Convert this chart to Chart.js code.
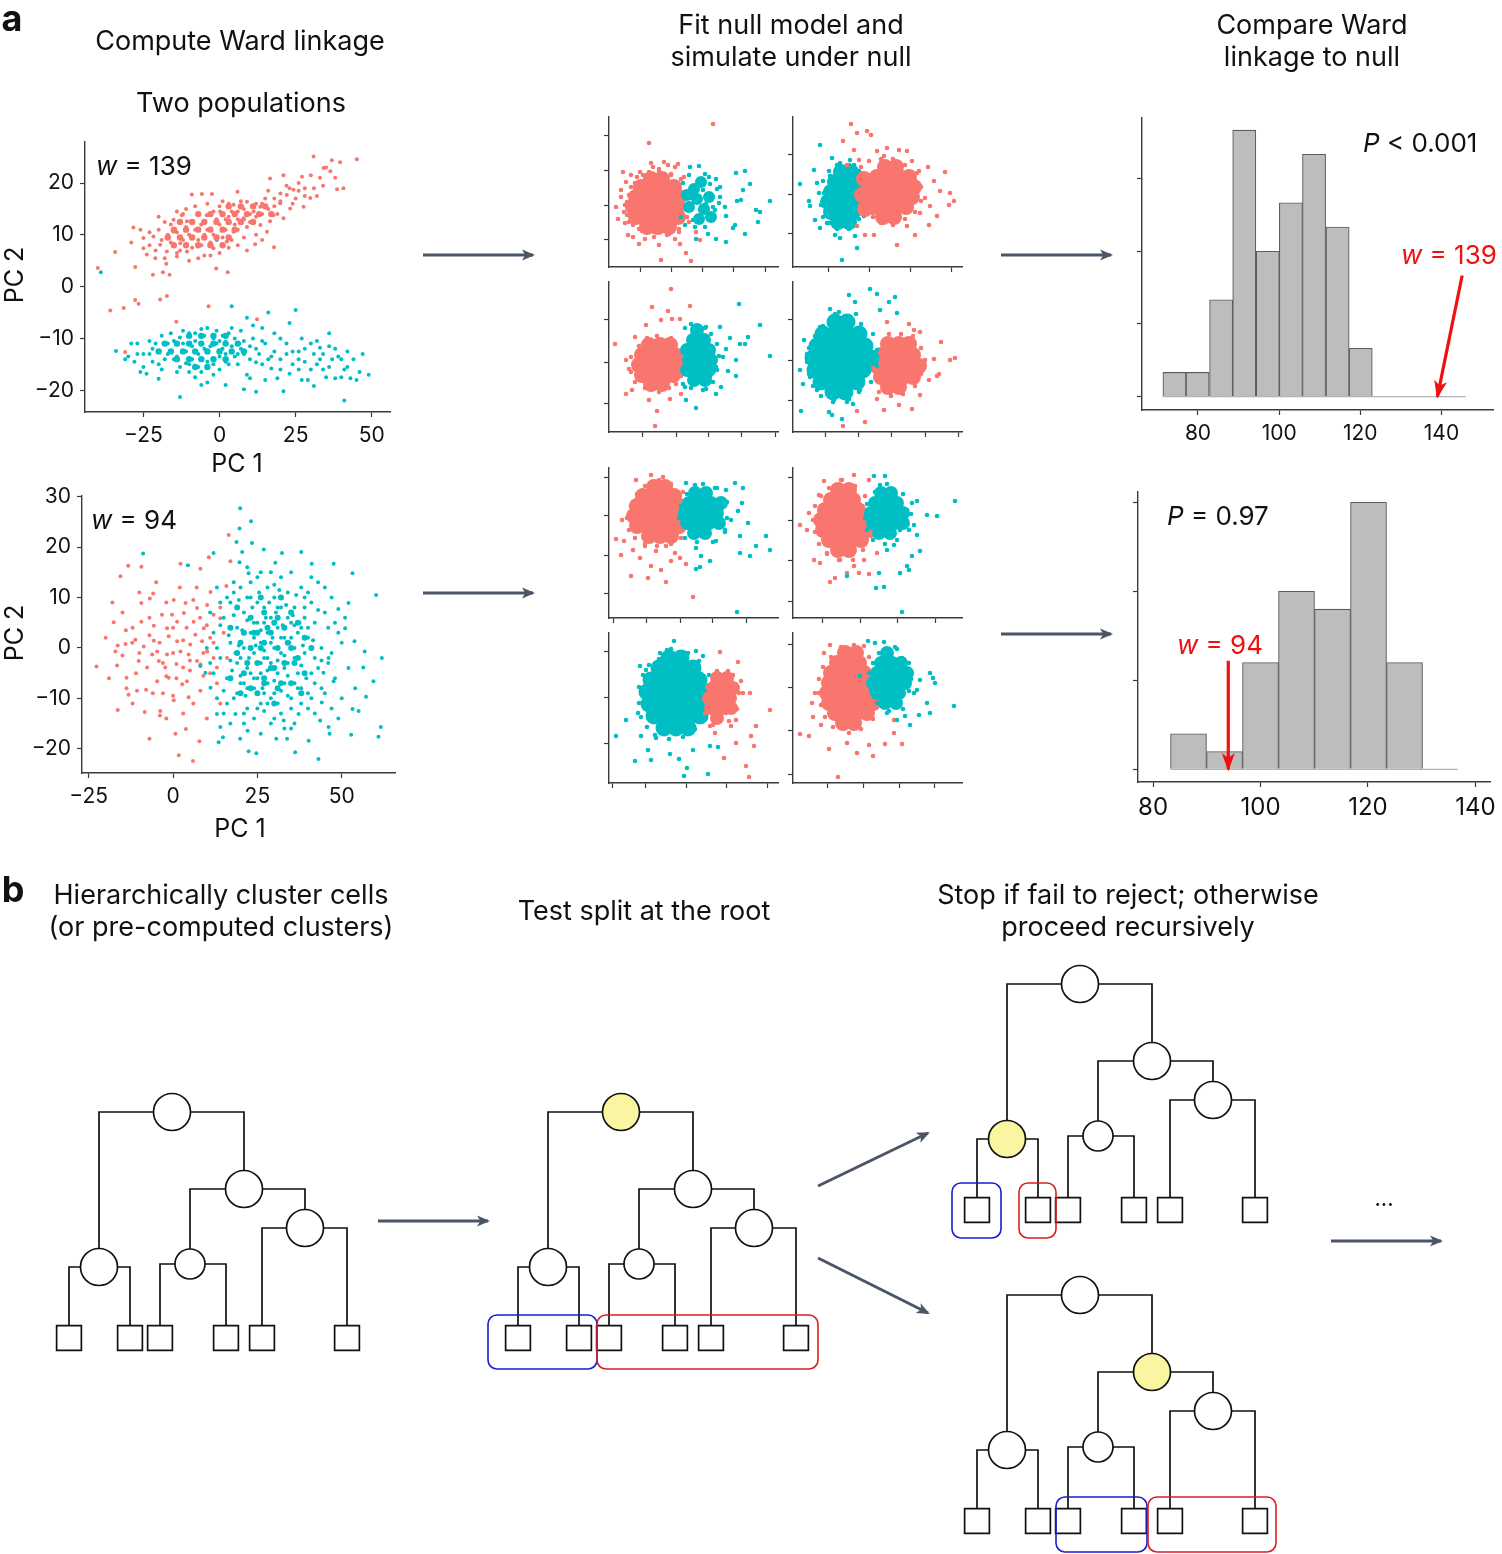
<!DOCTYPE html>
<html><head><meta charset="utf-8">
<script src="https://cdn.jsdelivr.net/npm/chart.js@4.4.1/dist/chart.umd.min.js"></script>
<style>
body{margin:0;background:#fff;}
#page{position:relative;width:1502px;height:1554px;overflow:hidden;font-family:Inter,'Noto Sans',sans-serif;color:#111;}
.t{position:absolute;white-space:nowrap;transform:translate(-50%,-50%);line-height:1;}
.l{position:absolute;white-space:nowrap;transform:translate(0,-50%);line-height:1;}
.box{position:absolute;}
</style></head><body><div id="page"></div>
<script>
// ---- main scatter panels (PC1, PC2 pairs) ----
const mainA_red = [30.9,25.1, 45.1,24.6, 36.9,24.4, 34.2,22.9, 36.4,22.3, 39.6,24, 27.1,21.2, 21,21.5, 16.6,20.9, 38.6,18.8, 40.7,19, 29.8,17.1, 27.6,15.4, 24.3,18.7, 22.1,17.7, -9.1,17.8, -5.8,17.9, -2.5,17.9, 5.9,18.3, -28.3,11.4, -34.3,6.7, -25,9.4, -40,3.6, -27.7,3.8, -21.9,2.3, -18.6,2.8, -16.4,2.3, -17.5,4.4, -23.9,6.2, -21.1,5.5, -14,5.8, -10.7,6.8, -1.1,3.5, 2.7,2.8, 11.7,8.2, 17.9,7.6, 15.6,10.6, 13.4,11.9, 17.7,13.8, 11.2,14.5, 7.9,13.2, 4.6,10.6, 2.4,8.7, -2,7.4, -7.4,8.1, -12.9,8.4, -15.1,10.6, -10.7,12.6, -4.2,13.8, 0.2,14.5, 4.6,15.8, 9,16.4, 13.4,15.4, 19.9,16.1, 23.2,15.1, 21,13.2, 16.6,12.6, -21.7,9.7, -19.5,8.1, -17.3,6.8, -15.1,12.9, -12.4,13.8, -25,7.4, -35.9,-4.6, -31.5,-4.1, -27.7,-2.6, -26.6,-3.3, -19.5,-2.5, -17.3,-1.8, -3.6,-3.8, -14.2,-6.8, -31,-12.6, 12.3,-6.3,
  -10,10, -8,11, -6,12, -4,11, -2,10, 0,12, 2,11, -7,9, -3,8.5, 1,9.5, -12,9, -9,12.5, -5,10, -1,13, 3,13.5, 5,12, -11,11.5, -14,10.5, -6,8, 6,14.5, 8,13, 10,14, 12,16, 14,14, 15,17, 18,15.5, 20,18, 23,19, 25,17, -16,8.5, -13,7, -9,7.5, -17,10, -2,14.5, 3,16, -7,14,
  -20,11, -23,8, -18,12.5, -8,15.5, 1,16.5, 6,11, 9,11.5, 11,12.5, 7,16.5, 16,18.5, 19,14, 26,20, 31,19, 33,21, 28,17.5, -11,15, -14,14.5, -4,16, 4,9, -5,6, -10,5, 8,9.5,
  0,15.5, 2,13, 4,14.5, 6,13, 8,15, 10,12.5, 12,13.5, 14,16, 16,15, 18,17, 20,16.5, 22,19.5, 24,16, 26,18.5, 28,19, 30,21.5, 32,17.5, 34,19.5, 35,23, 38,21, -19,9, -21,7, -23,10.5, -18,5.5, -16,12, -14,6.5, -12,14, -20,13.5, -26,11, -29,8.5, -3,6, -7,5.5, 0,6.5, 3,7.5, 6,8, 9,7, 12,10, 14,9];
const mainA_redCore = [-15,8, -11,8, -7,8, -3,8, 1,8, -17,9.5, -13,9.5, -9,9.5, -5,9.5, -1,9.5, 3,9.5, -15,11, -11,11, -7,11, -3,11, 1,11, 5,11, -13,12.5, -9,12.5, -5,12.5, -1,12.5, 3,12.5, 7,12.5, 11,12.5, -7,14, -3,14, 1,14, 5,14, 9,14, 13,14, 17,14, 3,15.5, 7,15.5, 11,15.5, 15,15.5];
const mainA_teal = [-39,2.8, -0.9,9, -34,-12.4, -30,-13.5, -28,-14.5, -24,-16.8, -20,-17.8, -13,-21.3, -22,-12, -19,-9.5, -17,-11, -25,-13, -27,-13, -20,-15, -15,-14, -10,-16.5, -8,-17.5, -4,-18.5, 0,-16, 3,-15, 5,-13.5, 7,-8.5, 4,-3.8, 9,-6, 11,-7.5, 14,-8, 16,-5, 15,-11, 18,-12.5, 20,-14, 22,-13, 24,-15, 25,-4.5, 23,-7, 26,-16, 28,-14.5, 29,-18, 30,-11, 31,-13, 32,-15, 34,-16, 36,-9, 36,-11.5, 37,-14, 38,-17.7, 40,-17.5, 41,-16, 42,-12.5, 43,-17.7, 49,-17, 41,-22, 36,-15.5, 33,-11.8, 12,-14.6, 10,-17.7, 8,-19.8, 12,-20.3, 9,-17, 19,-17.7, 21,-20.2, 17,-15.8, 2,-19, -6,-19, 6,-11, 10,-11.5, 13,-13, -2,-10, -5,-12, -8,-10.5, -11,-12.5, -13,-9.8, -9,-14, -4,-14.5, 1,-12, 3,-9, -1,-8.5, -6,-8.2, -16,-12.5, -18,-14, -12,-11, -7,-13, -3,-11.5, 0,-13.5, 2,-10.7, 5,-10, 8,-13, 6,-15, -10,-9, -14,-13.5, -22,-14.5, -26,-16.5, -31,-14, 15,-18, 27,-18, 31,-19.2, 45,-18, 39,-13.5,
  -15,-10.5, -13,-15.5, -11,-14.8, -7,-15.5, -2,-15, 1,-9.5, 4,-11.5, 7,-12, -9,-11.5, -5,-9.5, -1,-11, 2,-13, 11,-10, 14,-15, 17,-13.5, 20,-10, 26,-12.5, 27,-10, 33,-14, 23,-16.8, -23,-10.5, -29,-11,
  -27,-11, -25,-15.5, -23,-13, -21,-11, -19,-16, -17,-13, -16,-9, -14,-16.5, -12,-8.5, -10,-15, -8,-9, -6,-16.5, -4,-8, -2,-17, 0,-10.5, 2,-14.5, 4,-8, 6,-13, 8,-10.5, 10,-14, 12,-12, 14,-10.5, 16,-14, 18,-9, 20,-16, 22,-11, 24,-12.5, 26,-14, 28,-12, 30,-16, 32,-10.5, 34,-13, 35,-17.5, 38,-12, 40,-14, 42,-15.5, 44,-14, 46,-16.5, 47,-13];
const mainA_tealCore = [-10,-9.5, -6,-9.5, -2,-9.5, 2,-9.5, -18,-11, -14,-11, -10,-11, -6,-11, -2,-11, 2,-11, 6,-11, -20,-12.5, -16,-12.5, -12,-12.5, -8,-12.5, -4,-12.5, 0,-12.5, 4,-12.5, 8,-12.5, -14,-14, -10,-14, -6,-14, -2,-14, 2,-14, -8,-15.5, -4,-15.5];

const mainB_red = [-22.7,-3.7, -17.6,5.1, -16.4,0.5, -17.1,-0.7, -16.6,-3.5, -16.4,-12.3, -15.6,14.2, -13.3,16.3, -14.1,0.8, -13.8,-5.9, -13.8,-8, -13.2,-9.3, -12.1,1, -11.2,1.6, -10.7,-8.5, -9.4,5.2, -9.4,16.1, -9.4,8.9, -8.7,0.3, -8.4,-12.7, -8,-8.3, -6.9,9.8, -5.9,10.8, -5.7,4.4, -5.7,1.4, -6.2,-1.3, -4.7,-0.7, -4.2,-2.6, -3.9,-13.4, -3.8,-12.5, -1.8,3.9, -1.3,2.3, -2.3,-3.9, -2,-5.6, -1.3,-5.9, 0,-9.5, 0.2,-10.4, 0.7,-17, 0.2,9.5, 1.2,5.2, 2.2,16.7, 3.7,8.9, 3.2,6.9, 3,-3.9, 4.6,-1.3, 4.1,-6.6, 4.6,-9.8, 3.8,-16.1, 5.9,-22.4, 1.7,-21.3, 8.1,15.7, 7.8,-18.5, 10.6,18, 11.1,11.1, 8.6,1.3, 7.1,-2.6, 9.1,3.9, 10.1,-0.7, 12,6.6, 14,5.9, 16.5,22.4, 17,17.2, 15.8,12.3, 13,-3.9, 6.1,5.2, 6.6,2.6, 5.1,0.7, 2.2,-0.7, 1.2,1.3, -1.8,-1.3, -3.3,6.6, -0.3,6.6, 7.1,7.9, 10.1,8.5, 8.1,-3.3, 2.7,-7.2, -4.7,-6.6, -7.7,-3.9, -10.2,-2.6, 8.1,-8.5,
  -7,2.5, -3,-9, 5,-4.5, 9,-5.5, 11,2, 12,-2, 6,9.5, -11,-5, -14,3.5, 1,-3.2,
  -20,2, -19,-6, -18,9, -15,-1.5, -15,7, -12,4, -12,-11, -10,-1, -10,11, -7,6, -6,-9, -5,13, -4,1, -3,-3, -2,9, 0,-1, 0,4, 1,-6, 2,12, 3,1.5, 4,4, 5,-2.5, 6,-11, 7,12, 8,6, 9,-1, 10,4.5, 11,-5, 12,1, 13,-7, 14,8, 15,3, 16,-2, 3,-13, -2,-14, -7,-18, 10,-14, 14,-11];
const mainB_teal = [-8.9,18.7, 4.4,16.4, 12,18.8, 19.9,27.7, 19.7,23.7, 23.1,25.1, 18.8,21, 20.5,19, 23.4,20.8, 26.9,19.5, 32.3,18.8, 38,19, 19.7,17, 22.4,14.8, 30.3,16.9, 41.1,16.7, 47.6,16.7, 53.2,14.8, 60.2,10.5, 52,8.9, 49,7.7, 51,3.9, 53.8,1.3, 56.8,-0.7, 61.9,-2, 56.4,-3.9, 59.4,-6.6, 57.2,-9.7, 53.2,-12.1, 55,-12.5, 52.8,-17.2, 61.6,-15.7, 60.9,-17.6, 46.4,-17, 43.1,-22, 40.2,-18.4, 36.2,-20.7, 33.8,-18, 30.6,-18, 24.7,-20.9, 22.4,-20.5, 19.9,-18, 14.8,-17.7, 13.5,-18.7, 13,-13.1, 14,-15.7, 18.5,-13.1, 22.1,-16.4, 32.8,-14.4, 37.2,-13.1, 43.6,-14.4, 46.1,-15.7, 44.1,-10.8, 47.6,-6.6, 44.6,-4.9, 46.1,-2, 11.1,-7.9, 9.6,-4.9, 8.1,-3.6,
  12,3, 14,-2, 15,6, 16,-6, 17,1, 17,9, 18,-10, 19,4, 19,-3, 20,12, 20,-7, 21,0, 21,7, 22,-12, 22,-4, 23,3, 23,10, 24,-8, 24,-1, 25,5, 25,14, 26,-5, 26,1, 26,-11, 27,8, 27,-2, 28,3, 28,-7, 28,12, 29,-3, 29,6, 30,0, 30,-9, 30,10, 31,-5, 31,4, 32,-1, 32,8, 32,-13, 33,2, 33,-7, 34,11, 34,-3, 35,5, 35,-10, 36,0, 36,8, 37,-5, 37,3, 38,12, 38,-8, 39,-1, 39,6, 40,-12, 40,2, 41,9, 41,-5, 42,-2, 42,5, 43,13, 44,0, 44,-8, 45,7, 46,-3, 47,10, 48,-6, 49,3, 50,-10, 13,-10, 15,-13, 17,-15, 18,13, 16,10, 14,9, 22,16, 29,15, 35,15, 41,14, 45,12, 24,-14, 30,-14, 36,-15, 26,-17, 19,-9, 23,-5, 27,-9, 31,-11, 21,-15, 33,-16, 11,-3, 10,0, 11,7, 13,12, 25,-6, 27,5, 29,1, 31,8, 24,2, 26,-3, 28,-11, 33,-4, 35,2, 25,9, 22,-8, 20,-2, 34,6, 38,4, 36,-7, 40,-9, 39,10, 43,-4, 46,4, 47,-12, 51,6, 52,-4, 54,-8, 49,-14,
  15,-8.5, 16.5,2.5, 17.5,-4.5, 18,6.5, 18.5,-1, 19.5,9.5, 20,-5.5, 20.5,3.5, 21.5,-9.5, 22,5.5, 22.5,-2, 23.5,8, 24,-6, 24.5,0.5, 25,-12, 25.5,11, 26,3.5, 26.5,-8, 27,-0.5, 27.5,6, 28,-4.5, 28.5,9, 29,-10, 29.5,2, 30,-6.5, 30.5,7, 31,-2.5, 31.5,11.5, 32,-8.5, 32.5,4.5, 33,-1.5, 33.5,8.5, 34,-5.5, 34.5,1, 35,-12, 35.5,6.5, 36,-2, 36.5,10.5, 37,-8, 37.5,5, 38,-3.5, 38.5,0.5, 39,8, 39.5,-6, 40,4, 41,-10, 41.5,1.5, 42,-7, 43,7.5, 44,-2.5, 16,-11, 18,11, 21,-13, 23,13, 26,15, 29,-15, 32,14, 35,-16, 38,-11, 40,11, 42,-13, 45,-9, 47,-1, 48,5, 50,1, 19.5,0.5, 24,5, 28,-2, 32,2, 36,4.5, 21,-7, 27,-12.5, 34,-9.5, 30,12.5, 22,10, 17,-2.5, 14,4.5, 12,-5, 13,0];
const mainB_tealCore = [22,-3, 26,0, 30,-4, 34,1, 28,4, 24,3, 32,-7, 27,-6, 36,-3, 30,5, 20,1, 25,-9,
  17,-6, 17,4, 19,-1, 19,8, 21,-5, 21,3, 23,-8, 23,0, 23,6, 25,-3, 25,3, 27,-7, 27,1, 27,7, 29,-4, 29,3, 31,-8, 31,0, 31,6, 33,-3, 33,4, 35,-7, 35,0, 35,7, 37,-2, 37,5, 39,-5, 39,2, 41,0, 26,10, 32,10, 20,-9, 30,-11, 38,-9];

// ---- simulated null panels (plot units) ----
const sp1Red = [104,143, 40,124, 14,95, 7,60, 9,48, 19,32, 30,23, 52,7, 82,6, 77,14, 71,23, 50,22, 31,95, 59,102, 69,103, 12,77, 91,27, 87,35, 20,45, 18,65, 22,80, 28,90, 40,95, 50,98, 62,93, 75,90, 78,60, 80,45, 70,35, 60,33, 45,35, 30,38, 15,55, 24,30, 36,28, 66,28, 12,70, 17,85, 55,105, 44,100,
  16,62, 18,52, 20,72, 24,42, 26,84, 33,36, 34,92, 45,30, 50,96, 58,32, 62,92, 70,38, 72,88, 78,50, 79,74, 80,64, 16,44, 22,92, 66,100, 42,104];
const sp1RedCore = [38,40, 49,40, 60,40, 27,50, 38,50, 49,50, 60,50, 69,50, 24,60, 35,60, 46,60, 57,60, 68,60, 27,70, 38,70, 49,70, 60,70, 70,70, 32,80, 43,80, 54,80, 65,80, 42,88, 53,88];
const sp1Teal = [127,94, 136,96, 141,83, 134,77, 128,66, 132,67, 161,66, 147,57, 151,55, 149,45, 136,33, 126,42, 124,39, 117,25, 107,28, 99,33, 87,28, 96,93, 90,101, 81,100, 107,88, 111,80, 116,60, 117,51, 104,47, 101,83, 94,77, 91,57, 97,63, 111,70, 106,57, 84,47,
  72,50, 74,84, 80,92, 86,40, 96,40, 104,60, 108,78, 100,90, 110,64, 76,42];
const sp1TealCore = [80,60, 88,68, 95,58, 85,78, 92,85, 100,70, 78,72, 102,50, 90,48];
const sp2Red = [58,143, 64,134, 74,136, 78,132, 50,126, 61,117, 66,107, 84,116, 94,119, 106,117, 114,116, 119,106, 126,96, 135,100, 152,95, 141,86, 147,76, 157,74, 161,66, 156,62, 137,61, 144,51, 136,42, 122,32, 104,22, 81,32, 72,32, 64,41, 114,41, 127,54, 132,69, 127,81, 91,111, 54,102,
  68,100, 76,106, 88,108, 100,108, 112,102, 124,94, 128,80, 128,66, 122,55, 112,48, 100,42, 88,44, 80,50];
const sp2RedCore = [90,50, 101,50, 80,60, 91,60, 102,60, 113,60, 75,70, 86,70, 97,70, 108,70, 119,70, 78,80, 89,80, 100,80, 111,80, 121,80, 84,90, 95,90, 106,90, 116,90, 92,100, 103,100, 69,72, 71,88, 72,58];
const sp2Teal = [27,122, 7,83, 21,97, 24,84, 17,61, 16,66, 22,47, 27,39, 42,32, 47,29, 62,31, 64,19, 49,7, 39,109, 47,104, 57,107, 61,102, 74,67, 76,57, 71,51, 34,44, 41,47, 31,74, 37,91, 77,84, 67,94,
  30,50, 28,62, 26,74, 30,86, 36,96, 44,102, 56,102, 66,96, 74,86, 76,60, 66,48, 56,38, 44,38, 36,44];
const sp2TealCore = [45,45, 56,45, 38,55, 49,55, 60,55, 35,65, 46,65, 57,65, 68,65, 38,75, 49,75, 60,75, 70,75, 42,85, 53,85, 64,85, 48,95, 58,95];
const sp3Red = [62,143, 43,125, 81,126, 59,121, 52,112, 63,113, 71,113, 37,107, 6,88, 26,95, 17,72, 20,63, 17,38, 23,42, 40,32, 48,21, 46,6, 61,33, 72,38, 31,52, 34,88, 67,48,
  22,60, 22,75, 26,50, 30,86, 36,44, 38,94, 50,40, 48,96, 60,44, 62,94, 72,56, 74,84];
const sp3RedCore = [42,48, 53,48, 33,57, 44,57, 55,57, 64,57, 30,67, 41,67, 52,67, 63,67, 71,67, 33,77, 44,77, 55,77, 66,77, 40,87, 51,87, 61,87];
const sp3Teal = [130,128, 151,107, 161,76, 139,95, 131,88, 136,88, 121,94, 111,105, 97,105, 82,108, 127,72, 127,56, 119,61, 112,45, 107,38, 97,43, 87,24, 77,32, 76,45, 117,83, 107,65, 104,82, 101,55, 114,75,
  74,48, 82,44, 94,42, 104,50, 108,62, 110,76, 108,88, 102,98, 96,104, 80,94, 76,104];
const sp3TealCore = [85,52, 96,52, 78,62, 89,62, 100,62, 80,72, 91,72, 102,72, 78,82, 89,82, 100,82, 84,92, 95,92, 88,102];
const sp4Red = [121,102, 127,100, 148,90, 157,72, 162,74, 146,58, 144,56, 129,65, 127,37, 119,23, 106,27, 91,22, 72,10, 50,6, 64,21, 84,33, 116,108, 94,110, 141,73, 136,52,
  86,40, 98,36, 110,38, 122,46, 128,58, 132,72, 128,84, 120,96, 108,98, 96,98, 130,66];
const sp4RedCore = [95,45, 106,45, 88,55, 99,55, 110,55, 120,55, 84,66, 95,66, 106,66, 117,66, 126,66, 88,77, 99,77, 110,77, 120,77, 95,88, 106,88, 116,88];
const sp4Teal = [77,143, 84,138, 56,137, 62,130, 37,123, 46,120, 63,118, 102,135, 104,119, 96,130, 87,122, 11,92, 7,62, 10,48, 8,21, 24,42, 36,20, 39,17, 49,13, 60,28, 56,33, 21,73, 27,105, 14,78, 17,55, 67,42, 41,32,
  14,70, 16,58, 16,84, 20,46, 22,96, 28,36, 30,106, 40,30, 42,118, 54,30, 56,116, 66,40, 68,108, 78,50, 80,98, 84,66, 84,82];
const sp4TealCore = [40,40, 52,40, 28,50, 40,50, 52,50, 64,50, 22,62, 34,62, 46,62, 58,62, 70,62, 20,74, 32,74, 44,74, 56,74, 68,74, 78,74, 24,86, 36,86, 48,86, 60,86, 72,86, 30,98, 42,98, 54,98, 66,98, 42,110, 54,110];
const sp5Red = [42,143, 27,138, 54,141, 7,79, 12,63, 15,77, 22,42, 39,40, 57,36, 84,21, 52,48, 42,52, 31,60, 24,68, 62,57, 71,60, 77,54, 36,72, 47,67, 57,72, 66,65, 13,98,
  18,100, 20,88, 22,112, 26,80, 28,124, 36,74, 36,132, 48,72, 50,138, 62,74, 62,134, 72,80, 74,126, 78,96, 78,110];
const sp5RedCore = [40,82, 51,82, 62,82, 28,92, 39,92, 50,92, 61,92, 70,92, 25,102, 36,102, 47,102, 58,102, 68,102, 28,112, 39,112, 50,112, 61,112, 70,112, 34,122, 45,122, 56,122, 65,122, 45,131, 56,131];
const sp5Teal = [126,135, 134,130, 117,128, 133,115, 129,107, 122,98, 131,82, 139,95, 157,82, 161,68, 147,72, 141,62, 131,65, 101,57, 91,51, 87,49, 87,70, 92,62, 128,6, 107,77, 116,88, 77,135, 86,133, 106,130,
  70,100, 72,112, 76,80, 78,124, 88,76, 94,134, 104,76, 108,130, 116,86, 118,100, 118,116];
const sp5TealCore = [85,85, 96,85, 78,95, 89,95, 100,95, 110,95, 76,105, 87,105, 98,105, 108,105, 80,115, 91,115, 102,115, 112,115, 86,125, 97,125];
const sp6Red = [7,93, 16,105, 14,88, 21,58, 27,55, 37,36, 42,40, 54,45, 66,45, 76,44, 49,138, 31,137, 26,123, 76,138, 61,143, 34,65, 47,58, 61,52, 71,58, 84,65,
  20,98, 22,86, 22,112, 26,74, 28,122, 34,64, 36,130, 46,58, 48,138, 60,58, 62,132, 70,68, 72,122, 78,82, 78,110];
const sp6RedCore = [45,68, 56,68, 36,78, 47,78, 58,78, 68,78, 30,88, 41,88, 52,88, 63,88, 72,88, 28,98, 39,98, 50,98, 61,98, 71,98, 32,108, 43,108, 54,108, 65,108, 38,118, 49,118, 60,118, 45,128, 56,128];
const sp6Teal = [81,142, 92,142, 87,133, 119,115, 124,117, 134,103, 144,102, 162,117, 121,93, 124,83, 127,67, 119,62, 114,52, 107,45, 116,48, 86,45, 83,30, 91,31, 109,6, 54,42, 101,73, 94,68, 107,88, 114,108,
  72,100, 74,88, 74,114, 80,78, 82,126, 92,74, 94,134, 104,78, 110,124, 116,88, 118,104];
const sp6TealCore = [86,85, 97,85, 80,95, 91,95, 102,95, 110,95, 78,105, 89,105, 100,105, 110,105, 82,115, 93,115, 104,115, 88,125, 98,125];
const sp7Red = [111,131, 129,121, 119,112, 132,102, 134,90, 141,90, 161,73, 147,57, 142,47, 145,37, 127,40, 115,25, 137,17, 140,6, 122,57, 127,63, 117,70, 101,57, 106,50,
  96,70, 98,96, 104,58, 108,112, 120,62, 124,108, 128,74, 130,90];
const sp7RedCore = [108,65, 102,75, 113,75, 122,75, 100,85, 111,85, 121,85, 104,95, 115,95, 124,95, 108,105, 118,105];
const sp7Teal = [65,142, 58,133, 31,117, 37,113, 17,63, 7,47, 26,22, 42,23, 39,33, 61,29, 70,24, 78,15, 75,7, 99,9, 101,37, 109,36, 84,33, 94,127, 87,132, 51,130, 29,70, 32,47, 47,45, 79,130,
  30,80, 30,96, 32,66, 34,108, 38,56, 40,118, 46,48, 50,124, 60,44, 62,134, 74,46, 76,130, 86,54, 90,122, 96,64, 100,108];
const sp7TealCore = [55,55, 67,55, 79,55, 45,67, 57,67, 69,67, 81,67, 91,67, 40,79, 52,79, 64,79, 76,79, 88,79, 98,79, 38,91, 50,91, 62,91, 74,91, 86,91, 98,91, 42,103, 54,103, 66,103, 78,103, 90,103, 50,115, 62,115, 74,115, 84,115, 60,125, 72,125];
const sp8Red = [7,49, 16,47, 20,66, 28,58, 36,34, 45,6, 54,40, 64,30, 76,38, 80,27, 92,39, 101,50, 109,39, 19,80, 22,90, 31,130, 37,138, 61,138, 71,137, 101,63,
  26,90, 26,104, 28,78, 30,116, 32,66, 38,126, 40,56, 48,136, 56,50, 66,134, 68,54, 76,126, 80,64, 84,112, 86,84, 86,98];
const sp8RedCore = [50,60, 61,60, 42,70, 53,70, 64,70, 74,70, 36,80, 47,80, 58,80, 69,80, 80,80, 34,90, 45,90, 56,90, 67,90, 78,90, 36,100, 47,100, 58,100, 69,100, 80,100, 38,110, 49,110, 60,110, 71,110, 44,120, 55,120, 66,120, 52,130, 63,130];
const sp8Teal = [75,142, 82,140, 91,141, 102,136, 109,125, 127,103, 140,105, 137,110, 142,100, 161,77, 137,70, 126,68, 134,80, 117,58, 112,67, 104,63, 124,93, 121,90, 94,70, 67,107,
  76,110, 78,92, 80,120, 84,80, 86,130, 96,72, 104,134, 110,74, 116,92, 118,104, 116,120];
const sp8TealCore = [92,80, 103,80, 84,90, 95,90, 106,90, 80,100, 91,100, 102,100, 112,100, 84,110, 95,110, 106,110, 114,110, 88,120, 99,120, 108,120, 94,130];
const spXTicks = [[31,62,93,124,156],[35,76,117,158],[33,67,99,132,166],[32,65,98,132,165],[4,37,71,103,137],[29,67,105,142],[3,36,77,117,158],[34,70,106,141]];
const spYTicks = [[132,97,62,28],[112,73,34],[112,70,29],[112,72,32],[141,102,63,25],[141,98,58,17],[132,86,40],[139,96,53,9]];

// ---- null distributions ----
const histA_centers = [74.2, 79.9, 85.7, 91.4, 97.2, 102.9, 108.6, 114.4, 120.1];
const histA_counts = [1, 1, 4, 11, 6, 8, 10, 7, 2];
const histA_base = [71.3,0, 146,0];
const histA_obs = [145.1,5.0, 139,0];
const histB_centers = [86.6, 93.3, 100.0, 106.7, 113.4, 120.1, 126.8];
const histB_counts = [2, 1, 6, 10, 9, 15, 6];
const histB_base = [83.25,0, 136.7,0];
const histB_obs = [94,6.1, 94,0];
const histTicks = [80, 100, 120, 140];

// ---- dendrogram template (page units) ----
const leafX = [69, 130, 160, 226, 262, 347];
const leafY = 1338;
const nodeX = [99, 190, 305, 244, 172];
const nodeY = [1267, 1264, 1228, 1189, 1112];
const nodeR = [18.5, 15, 18.5, 18.5, 18.5];
const nodeLeft = [0, 2, 4, 7, 6];
const nodeRight = [1, 3, 5, 8, 9];
const treeDX = [0, 449, 908, 908];
const treeDY = [0, 0, -128, 183];
const treeHi = [-1, 4, 0, 3];
const boxX0 = [488, 597, 952, 1019, 1056, 1148];
const boxX1 = [597, 818, 1001, 1056, 1147, 1276];
const boxY0 = [1315, 1315, 1183, 1183, 1497, 1497];
const boxY1 = [1369, 1369, 1238, 1238, 1552, 1552];
const boxCol = ['#1c1cd0', '#dd1d1d', '#1c1cd0', '#dd1d1d', '#1c1cd0', '#dd1d1d'];
const arrowX0 = [423, 423, 1001, 1001, 378, 818, 818, 1331];
const arrowY0 = [255, 593, 255, 634, 1221, 1186, 1258, 1241];
const arrowX1 = [533, 533, 1111, 1111, 488, 928, 928, 1441];
const arrowY1 = [255, 593, 255, 634, 1221, 1133, 1313, 1241];

const RED = '#f8766d', TEAL = '#00bfc4', AXIS = '#3a3a3a', SLATE = '#4a5568', YEL = '#faf5a0';
Chart.defaults.font.family = "Inter, 'Noto Sans', sans-serif";
Chart.defaults.color = '#111';
const page = document.getElementById('page');

function pts(a) {
  const o = [];
  for (let i = 0; i < a.length; i += 2) o.push({x: a[i], y: a[i + 1]});
  return o;
}

function makeCanvas(area, pad) {
  const d = document.createElement('div');
  d.className = 'box';
  d.style.left = (area[0] - pad[0]) + 'px';
  d.style.top = (area[1] - pad[1]) + 'px';
  d.style.width = (area[2] - area[0] + pad[0] + pad[2]) + 'px';
  d.style.height = (area[3] - area[1] + pad[1] + pad[3]) + 'px';
  const c = document.createElement('canvas');
  d.appendChild(c);
  page.appendChild(d);
  return c;
}

function axis(min, max, ticks, labels, size, fit, pos) {
  return {
    type: 'linear', position: pos, min: min, max: max, offset: false,
    afterBuildTicks: a => { a.ticks = ticks.map(v => ({value: v})); },
    afterFit: s => { if (pos === 'left') s.width = fit; else s.height = fit; },
    border: {display: true, color: AXIS, width: 1.4},
    grid: {display: true, offset: false, drawOnChartArea: false, drawTicks: true, tickLength: 5, tickWidth: 1.2, color: AXIS, tickColor: AXIS},
    ticks: {display: labels, color: '#111', padding: 6, font: {size: size}, autoSkip: false, maxRotation: 0,
      callback: v => String(v).replace('-', '\u2212')}
  };
}

const arrowHeads = {
  id: 'arrowHeads',
  afterDatasetsDraw(chart) {
    const ctx = chart.ctx;
    chart.data.datasets.forEach((ds, i) => {
      if (!ds.head) return;
      const p = chart.getDatasetMeta(i).data;
      const a = p[p.length - 2], b = p[p.length - 1];
      const ang = Math.atan2(b.y - a.y, b.x - a.x), L = ds.head[0], W = ds.head[1];
      const c = Math.cos(ang), s = Math.sin(ang);
      const tx = b.x + c * 2, ty = b.y + s * 2;
      ctx.save();
      ctx.fillStyle = ds.borderColor;
      ctx.beginPath();
      ctx.moveTo(tx, ty);
      ctx.lineTo(tx - L * c + W / 2 * s, ty - L * s - W / 2 * c);
      ctx.lineTo(tx - L * 0.75 * c, ty - L * 0.75 * s);
      ctx.lineTo(tx - L * c - W / 2 * s, ty - L * s + W / 2 * c);
      ctx.closePath();
      ctx.fill();
      ctx.restore();
    });
  }
};

function baseOptions(pad, x, y) {
  return {
    responsive: true, maintainAspectRatio: false, animation: false, events: [],
    layout: {autoPadding: false, padding: {left: 0, top: pad[1], right: pad[2], bottom: 0}},
    plugins: {legend: {display: false}, tooltip: {enabled: false}},
    scales: {x: x, y: y}
  };
}

function scatterPanel(area, pad, xr, yr, xt, yt, labels, size, sets) {
  new Chart(makeCanvas(area, pad), {
    type: 'scatter',
    data: {datasets: sets.map((s, i) => ({
      data: pts(s[0]), backgroundColor: s[1], borderWidth: 0,
      pointRadius: s[2], pointHoverRadius: s[2], order: sets.length - i
    }))},
    options: baseOptions(pad, axis(xr[0], xr[1], xt, labels, size, pad[3], 'bottom'),
      axis(yr[0], yr[1], yt, labels, size, pad[0], 'left'))
  });
}

function histPanel(area, pad, xr, yr, yt, size, centers, counts, base, obs) {
  new Chart(makeCanvas(area, pad), {
    type: 'bar',
    data: {datasets: [
      {type: 'line', data: pts(obs), borderColor: '#ee1111', borderWidth: 3.2, pointRadius: 0, head: [18, 13], order: 0},
      {type: 'line', data: pts(base), borderColor: '#b3b3b3', borderWidth: 1.3, pointRadius: 0, order: 1},
      {data: centers.map((c, i) => ({x: c, y: counts[i]})), backgroundColor: '#bdbdbd', borderColor: '#5c5c5c',
        borderWidth: 1.1, barPercentage: 1, categoryPercentage: 1, order: 2}
    ]},
    options: baseOptions(pad, axis(xr[0], xr[1], histTicks, true, size, pad[3], 'bottom'),
      axis(yr[0], yr[1], yt, false, size, pad[0], 'left')),
    plugins: [arrowHeads]
  });
}

// ---- diagram layer (arrows, dendrograms) on a full-page chart ----
const roundBoxes = {
  id: 'roundBoxes',
  afterDatasetsDraw(chart) {
    const ctx = chart.ctx, x = chart.scales.x, y = chart.scales.y;
    boxX0.forEach((v, i) => {
      const l = x.getPixelForValue(v), r = x.getPixelForValue(boxX1[i]);
      const t = y.getPixelForValue(boxY0[i]), b = y.getPixelForValue(boxY1[i]);
      ctx.save();
      ctx.strokeStyle = boxCol[i];
      ctx.lineWidth = 1.6;
      ctx.beginPath();
      ctx.roundRect(l, t, r - l, b - t, 9);
      ctx.stroke();
      ctx.restore();
    });
  }
};

const diagramSets = [];
arrowX0.forEach((x0, i) => {
  diagramSets.push({data: [{x: x0, y: arrowY0[i]}, {x: arrowX1[i], y: arrowY1[i]}], showLine: true,
    borderColor: SLATE, borderWidth: 3, pointRadius: 0, head: [13, 11], order: 3});
});
treeDX.forEach((dx, t) => {
  const dy = treeDY[t];
  const all = leafX.map(x => ({x: x + dx, y: leafY + dy}))
    .concat(nodeX.map((x, k) => ({x: x + dx, y: nodeY[k] + dy})));
  nodeLeft.forEach((li, k) => {
    const a = all[li], b = all[nodeRight[k]], p = all[6 + k];
    diagramSets.push({data: [a, {x: a.x, y: p.y}, {x: b.x, y: p.y}, b], showLine: true,
      borderColor: '#111', borderWidth: 1.7, pointRadius: 0, order: 2});
  });
  diagramSets.push({data: all.slice(6), pointRadius: nodeR, pointStyle: 'circle',
    backgroundColor: nodeR.map((r, k) => k === treeHi[t] ? YEL : '#fff'),
    borderColor: '#111', borderWidth: 1.7, order: 1});
  diagramSets.push({data: all.slice(0, 6), pointRadius: 17.5, pointStyle: 'rect',
    backgroundColor: '#fff', borderColor: '#111', borderWidth: 1.7, order: 1});
});

new Chart(makeCanvas([0, 0, 1502, 1554], [0, 0, 0, 0]), {
  type: 'scatter',
  data: {datasets: diagramSets},
  options: {
    responsive: true, maintainAspectRatio: false, animation: false, events: [],
    layout: {autoPadding: false, padding: 0},
    plugins: {legend: {display: false}, tooltip: {enabled: false}},
    scales: {
      x: {type: 'linear', min: 0, max: 1502, display: false},
      y: {type: 'linear', min: 0, max: 1554, reverse: true, display: false}
    }
  },
  plugins: [arrowHeads, roundBoxes]
});

// ---- panel a charts ----
scatterPanel([85, 139, 390, 412], [85, 16, 20, 70], [-44.2, 56], [-24.2, 28], [-25, 0, 25, 50], [-20, -10, 0, 10, 20], true, 21,
  [[mainA_teal, TEAL, 2], [mainA_tealCore, TEAL, 3.2], [mainA_red, RED, 2], [mainA_redCore, RED, 3.2]]);
scatterPanel([82, 493, 395, 773], [82, 16, 20, 70], [-27, 65.8], [-24.8, 30.2], [-25, 0, 25, 50], [-20, -10, 0, 10, 20, 30], true, 21,
  [[mainB_red, RED, 2], [mainB_teal, TEAL, 2], [mainB_tealCore, TEAL, 3]]);

const spAreas = [[609, 117, 778, 267], [793, 117, 962, 267], [609, 282, 778, 432], [793, 282, 962, 432],
  [609, 468, 778, 618], [793, 468, 962, 618], [609, 633, 778, 783], [793, 633, 962, 783]];
const spSets = [
  [[sp1Red, RED, 2.3], [sp1RedCore, RED, 8], [sp1Teal, TEAL, 2.3], [sp1TealCore, TEAL, 6]],
  [[sp2Teal, TEAL, 2.3], [sp2TealCore, TEAL, 8], [sp2Red, RED, 2.3], [sp2RedCore, RED, 8]],
  [[sp3Red, RED, 2.3], [sp3RedCore, RED, 8], [sp3Teal, TEAL, 2.3], [sp3TealCore, TEAL, 7]],
  [[sp4Red, RED, 2.3], [sp4RedCore, RED, 8], [sp4Teal, TEAL, 2.3], [sp4TealCore, TEAL, 8.5]],
  [[sp5Red, RED, 2.3], [sp5RedCore, RED, 8], [sp5Teal, TEAL, 2.3], [sp5TealCore, TEAL, 7]],
  [[sp6Red, RED, 2.3], [sp6RedCore, RED, 8], [sp6Teal, TEAL, 2.3], [sp6TealCore, TEAL, 7]],
  [[sp7Teal, TEAL, 2.3], [sp7TealCore, TEAL, 8.5], [sp7Red, RED, 2.3], [sp7RedCore, RED, 7]],
  [[sp8Red, RED, 2.3], [sp8RedCore, RED, 8], [sp8Teal, TEAL, 2.3], [sp8TealCore, TEAL, 7]]
];
spAreas.forEach((a, i) => {
  scatterPanel(a, [10, 6, 6, 10], [0, 169], [0, 150], spXTicks[i], spYTicks[i], false, 10, spSets[i]);
});

histPanel([1142, 118, 1493, 410], [30, 10, 9, 44], [66.2, 152.7], [-0.55, 11.5], [0, 3, 6, 9], 21,
  histA_centers, histA_counts, histA_base, histA_obs);
histPanel([1138, 492, 1494, 782], [30, 10, 8, 52], [77.2, 142.8], [-0.71, 15.58], [0, 5, 10, 15], 24,
  histB_centers, histB_counts, histB_base, histB_obs);

// ---- text ----
function txt(html, x, y, size, cls, extra) {
  const d = document.createElement('div');
  d.className = cls || 't';
  d.style.left = x + 'px';
  d.style.top = y + 'px';
  d.style.fontSize = size + 'px';
  if (extra) d.style.cssText += extra;
  d.innerHTML = html;
  page.appendChild(d);
}
txt('<b>a</b>', 12, 18, 36);
txt('<b>b</b>', 13, 889, 36);
txt('Compute Ward linkage', 240, 40, 27);
txt('Two populations', 241, 102, 27);
txt('Fit null model and', 791, 24, 27);
txt('simulate under null', 791, 56, 27);
txt('Compare Ward', 1312, 24, 27);
txt('linkage to null', 1312, 56, 27);
txt('<i>w</i> = 139', 96, 166, 26, 'l');
txt('<i>w</i> = 94', 91, 520, 26, 'l');
txt('<i>P</i> &lt; 0.001', 1363, 143, 26, 'l');
txt('<i>w</i> = 139', 1401, 255, 26, 'l', 'color:#ee1111;');
txt('<i>P</i> = 0.97', 1167, 516, 26, 'l');
txt('<i>w</i> = 94', 1177, 645, 26, 'l', 'color:#ee1111;');
txt('PC 2', 14, 275, 25, 't', 'transform:translate(-50%,-50%) rotate(-90deg);');
txt('PC 2', 14, 633, 25, 't', 'transform:translate(-50%,-50%) rotate(-90deg);');
txt('PC 1', 237, 463, 25);
txt('PC 1', 240, 828, 25);
txt('Hierarchically cluster cells', 221, 894, 27);
txt('(or pre-computed clusters)', 221, 926, 27);
txt('Test split at the root', 644, 910, 27);
txt('Stop if fail to reject; otherwise', 1128, 894, 27);
txt('proceed recursively', 1128, 926, 27);
txt('...', 1384, 1198, 22);
</script></body></html>
